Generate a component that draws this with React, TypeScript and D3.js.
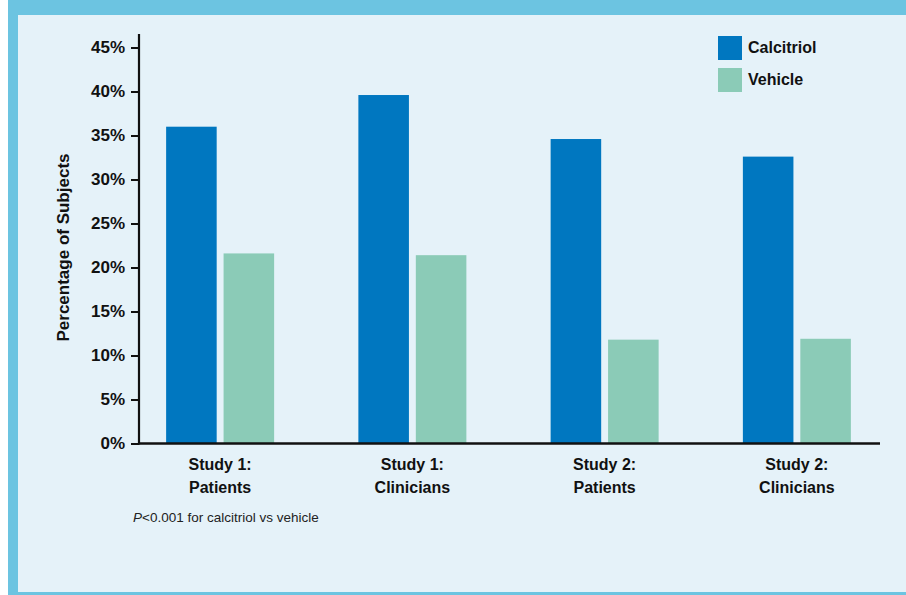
import React, { useEffect, useRef } from "react";
import * as d3 from "d3";

// Chart data
const groups = ["Study 1: Patients", "Study 1: Clinicians", "Study 2: Patients", "Study 2: Clinicians"];
const groupLines = [
  ["Study 1:", "Patients"],
  ["Study 1:", "Clinicians"],
  ["Study 2:", "Patients"],
  ["Study 2:", "Clinicians"],
];
const seriesNames = ["Calcitriol", "Vehicle"];
const calcitriol = [36.0, 39.6, 34.6, 32.6];
const vehicle = [21.6, 21.4, 11.8, 11.9];
const yTicks = [0, 5, 10, 15, 20, 25, 30, 35, 40, 45];
const footnoteP = "P";
const footnoteRest = "<0.001 for calcitriol vs vehicle";

const W = 906;
const H = 595;
const colors = ["#0077c0", "#8bcbb7"];
const FONT = "'Liberation Sans', Arial, Helvetica, sans-serif";

export default function App() {
  const yAxisRef = useRef<SVGGElement>(null);

  const y = d3.scaleLinear().domain([0, 45]).range([443.5, 47.5]);
  const x0 = d3.scaleBand<string>().domain(groups).range([124, 893]).padding(0);
  const x1 = d3
    .scaleBand<string>()
    .domain(seriesNames)
    .range([x0.bandwidth() / 2 - 54, x0.bandwidth() / 2 + 54])
    .paddingInner(0.12);

  const values = [calcitriol, vehicle];

  useEffect(() => {
    if (!yAxisRef.current) return;
    const g = d3.select(yAxisRef.current);
    g.selectAll("*").remove();
    g.call(
      d3
        .axisLeft(y)
        .tickValues(yTicks)
        .tickSize(8)
        .tickPadding(6)
        .tickFormat((d) => `${d}%`)
    );
    g.select(".domain").remove();
    g.selectAll(".tick line").attr("stroke", "#111").attr("stroke-width", 2);
    g.selectAll(".tick text")
      .attr("fill", "#111")
      .style("font-family", FONT)
      .style("font-weight", "700")
      .style("font-size", "17px");
  }, []);

  return (
    <svg
      width={W}
      height={H}
      style={{ position: "absolute", left: 0, top: 0, display: "block" }}
    >
      <rect x={0} y={0} width={W} height={H} fill="#ffffff" />
      <rect x={8} y={0} width={W - 8} height={H} fill="#6cc4e1" />
      <rect x={18} y={15} width={W - 18} height={577} fill="#e5f2f9" />

      {/* bars */}
      {groups.map((gName, gi) => (
        <g key={gName} transform={`translate(${x0(gName)},0)`}>
          {seriesNames.map((s, si) => (
            <rect
              key={s}
              x={x1(s)}
              y={y(values[si][gi])}
              width={x1.bandwidth()}
              height={y(0) - y(values[si][gi])}
              fill={colors[si]}
            />
          ))}
        </g>
      ))}

      {/* axes */}
      <g ref={yAxisRef} transform="translate(139,0)" />
      <line x1={139} x2={139} y1={34} y2={444.5} stroke="#111" strokeWidth={2.2} />
      <line x1={138} x2={880} y1={443.5} y2={443.5} stroke="#111" strokeWidth={2.6} />

      {/* category labels */}
      {groups.map((gName, gi) => {
        const cx = (x0(gName) ?? 0) + x0.bandwidth() / 2;
        return (
          <text
            key={gName}
            x={cx}
            textAnchor="middle"
            fontFamily={FONT}
            fontWeight={700}
            fontSize={16}
            fill="#111"
          >
            <tspan x={cx} y={470}>
              {groupLines[gi][0]}
            </tspan>
            <tspan x={cx} y={493}>
              {groupLines[gi][1]}
            </tspan>
          </text>
        );
      })}

      {/* y-axis title */}
      <text
        transform="translate(69,247.5) rotate(-90)"
        textAnchor="middle"
        fontFamily={FONT}
        fontWeight={700}
        fontSize={17}
        fill="#111"
      >
        Percentage of Subjects
      </text>

      {/* legend */}
      {seriesNames.map((s, i) => (
        <g key={s} transform={`translate(718,${36 + i * 32})`}>
          <rect width={24} height={24} fill={colors[i]} />
          <text x={30} y={17} fontFamily={FONT} fontWeight={700} fontSize={16} fill="#111">
            {s}
          </text>
        </g>
      ))}

      {/* footnote */}
      <text x={133} y={522} fontFamily={FONT} fontSize={13.5} fill="#222">
        <tspan fontStyle="italic">{footnoteP}</tspan>
        <tspan>{footnoteRest}</tspan>
      </text>
    </svg>
  );
}
